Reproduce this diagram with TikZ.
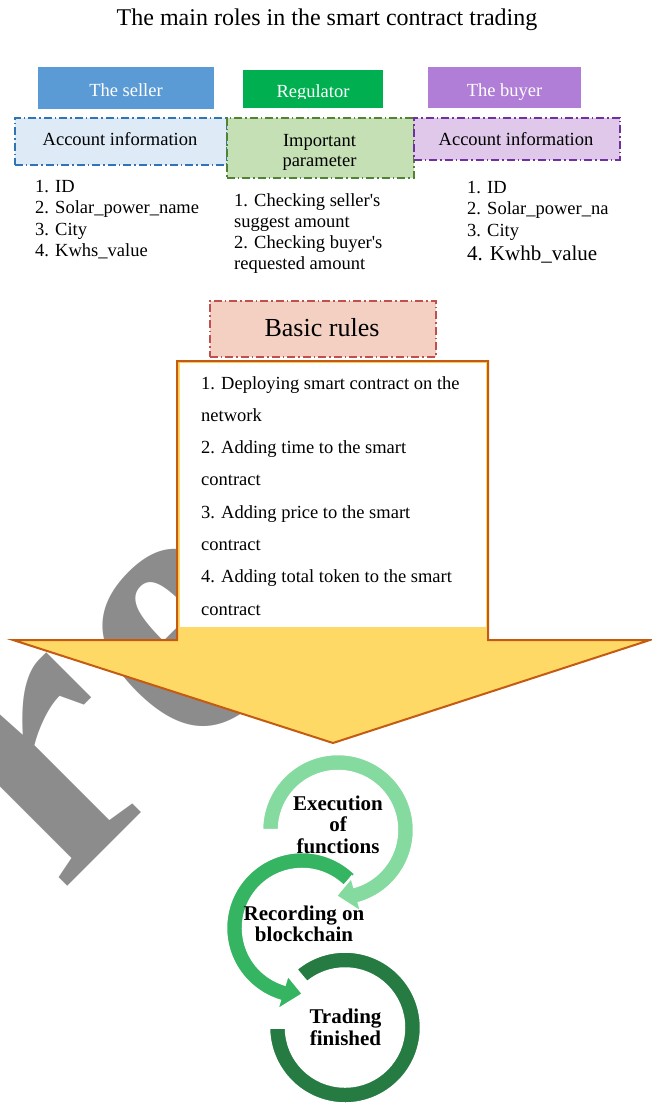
\documentclass[tikz,border=0pt]{standalone}
\usepackage{fontspec}
\setmainfont{Liberation Serif}
\usetikzlibrary{calc}

\definecolor{sellerblue}{HTML}{5B9BD5}
\definecolor{regulgreen}{HTML}{00B050}
\definecolor{buyerpurple}{HTML}{B07ED6}
\definecolor{sellerfill}{HTML}{DEEBF7}
\definecolor{sellerline}{HTML}{2E75B6}
\definecolor{paramfill}{HTML}{C5E0B4}
\definecolor{paramline}{HTML}{548235}
\definecolor{buyerfill}{HTML}{E0C8EA}
\definecolor{buyerline}{HTML}{7030A0}
\definecolor{rulesfill}{HTML}{F3D0C2}
\definecolor{rulesline}{HTML}{C0504D}
\definecolor{arrowfill}{HTML}{FFD966}
\definecolor{arrowline}{HTML}{C55A11}
\definecolor{ringone}{HTML}{84DA9F}
\definecolor{ringtwo}{HTML}{35B562}
\definecolor{ringthree}{HTML}{267B43}
\definecolor{markgray}{HTML}{8C8C8C}

\begin{document}
\begin{tikzpicture}[x=1pt,y=-1pt,
  txt/.style={inner sep=0pt, font=\fontsize{18.5}{21.5}\selectfont},
  listline/.style={txt, anchor=base west},
  midline/.style={txt, anchor=base},
  headtxt/.style={txt, anchor=base, text=white},
  headbox/.style={draw=none, inner sep=0pt, anchor=north west},
  dashdot/.style={line width=1.5pt, dash pattern=on 8pt off 3pt on 1.5pt off 3pt},
  infobox/.style={headbox, dashdot},
  ringtxt/.style={inner sep=0pt, anchor=base, font=\fontsize{21}{21.5}\selectfont\bfseries},
  ringshape/.style={draw=white, line width=2.5pt, line join=miter},
  watermark/.style={inner sep=0pt, anchor=base west, rotate=45, text=markgray,
    font=\fontsize{380}{380}\selectfont\bfseries}]

\useasboundingbox (0,0) rectangle (652,1103);

% diagonal watermark behind the figure
\node[watermark] (wmark) at (-104,1058) {Pr\kern16pt e};

% title
\node[txt, anchor=base, font=\fontsize{24}{28}\selectfont] (title) at (327,25.5)
  {The main roles in the smart contract trading};

% role headers
\node[headbox, fill=sellerblue, minimum width=176pt, minimum height=42pt] (seller) at (38,67) {};
\node[headbox, fill=regulgreen, minimum width=140pt, minimum height=38pt] (regulator) at (243,70) {};
\node[headbox, fill=buyerpurple, minimum width=153pt, minimum height=41pt] (buyer) at (428,67) {};
\node[headtxt] (sellertxt) at (126,96) {The seller};
\begin{scope}
  \clip (243,70) rectangle (383,98.5);
  \node[headtxt] (regtxt) at (313,97) {Regulator};
\end{scope}
\node[headtxt] (buyertxt) at (504.5,96) {The buyer};

% information boxes
\node[infobox, fill=sellerfill, draw=sellerline, minimum width=212pt, minimum height=47pt] (sellerinfo) at (14,117) {};
\node[infobox, fill=paramfill, draw=paramline, minimum width=187pt, minimum height=60pt] (param) at (226,117) {};
\node[infobox, fill=buyerfill, draw=buyerline, minimum width=206pt, minimum height=42pt] (buyerinfo) at (413,117) {};
\node[midline] (sellerinfotxt) at (120,145) {Account information};
\node[midline] (paramtxta) at (319.5,146) {Important};
\node[midline] (paramtxtb) at (319.5,166) {parameter};
\node[midline] (buyerinfotxt) at (516,145) {Account information};

% seller list
\node[listline] (sa) at (35,192) {1. ID};
\node[listline] (sb) at (35,213.5) {2. Solar\_power\_name};
\node[listline] (sc) at (35,235) {3. City};
\node[listline] (sd) at (35,256.5) {4. Kwhs\_value};

% regulator list
\node[listline] (ra) at (234,206) {1. Checking seller\textquotesingle s};
\node[listline] (rb) at (234,227) {suggest amount};
\node[listline] (rc) at (234,248.5) {2. Checking buyer\textquotesingle s};
\node[listline] (rd) at (234,269.5) {requested amount};

% buyer list
\node[listline] (ba) at (467,193) {1. ID};
\node[listline] (bb) at (467,214.5) {2. Solar\_power\_na};
\node[listline] (bc) at (467,236.5) {3. City};
\node[listline, font=\fontsize{21}{24}\selectfont] (bd) at (467,260) {4. Kwhb\_value};

% basic rules label
\node[infobox, fill=rulesfill, draw=rulesline, minimum width=226pt, minimum height=56pt] (basic) at (209,300) {};
\node[txt, anchor=base, font=\fontsize{26}{30}\selectfont] (basictxt) at (322,336) {Basic rules};

% down arrow carrying the rule list
\draw[fill=arrowfill, draw=arrowline, line width=2pt, line join=miter]
  (13,640) -- (177,640) -- (177,361) -- (488,361) -- (488,640) -- (650,640) -- (333,743) -- cycle;
\node[headbox, fill=white, minimum width=306pt, minimum height=264pt] (rulesbox) at (179.5,363) {};
\foreach \i/\t in {0/1. Deploying smart contract on the, 1/network,
                   2/2. Adding time to the smart, 3/contract,
                   4/3. Adding price to the smart, 5/contract,
                   6/4. Adding total token to the smart, 7/contract}
  \node[listline] (rule\i) at (201,389+32.3*\i) {\t};

% circular process arrows
\coordinate (c1) at (338,830);
\coordinate (c2) at (302,928);
\coordinate (c3) at (345,1027.5);

\filldraw[fill=ringthree, ringshape]
  ($(c3)+(130:76pt)$) arc[start angle=130, end angle=-180, radius=76pt]
  -- ($(c3)+(180:59pt)$) arc[start angle=-180, end angle=130, radius=59pt] -- cycle;

\filldraw[fill=ringtwo, ringshape]
  ($(c2)+(45:76pt)$) arc[start angle=45, end angle=253, radius=76pt]
  -- ($(c2)+(253:86pt)$) -- ($(c2)+(271:66pt)$) -- ($(c2)+(253:49pt)$)
  -- ($(c2)+(253:59pt)$) arc[start angle=253, end angle=45, radius=59pt] -- cycle;

\filldraw[fill=ringone, ringshape]
  ($(c1)+(180:76pt)$) arc[start angle=180, end angle=-74, radius=76pt]
  -- ($(c1)+(-74:86pt)$) -- ($(c1)+(-92:66pt)$) -- ($(c1)+(-74:49pt)$)
  -- ($(c1)+(-74:59pt)$) arc[start angle=-74, end angle=180, radius=59pt] -- cycle;

\node[ringtxt] (ea) at (338,810) {Execution};
\node[ringtxt] (eb) at (338,831.5) {of};
\node[ringtxt] (ec) at (338,853) {functions};
\node[ringtxt] (rca) at (304,920) {Recording on};
\node[ringtxt] (rcb) at (304,941.5) {blockchain};
\node[ringtxt] (ta) at (345.5,1023.5) {Trading};
\node[ringtxt] (tb) at (345.5,1045) {finished};

\end{tikzpicture}
\end{document}
